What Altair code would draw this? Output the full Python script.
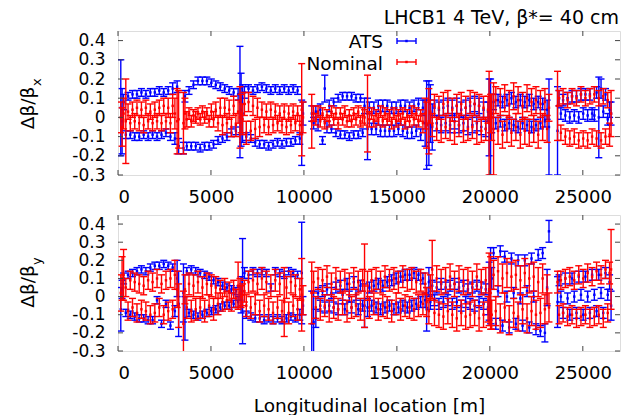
import altair as alt
import pandas as pd

# BPM longitudinal positions [m]
S = [150, 220, 300, 420, 540, 660, 780, 900, 1020, 1140, 1260, 1380, 1500, 1620, 1740, 1860, 1980, 2100, 2220, 2340, 2460, 2580, 2700, 2820, 2940, 3060, 3180, 3260,
     3520, 3600, 3700, 3820, 3940, 4060, 4180, 4300, 4420, 4540, 4660, 4780, 4900, 5020, 5140, 5260, 5380, 5500, 5620, 5740, 5860, 5980, 6100, 6220, 6340, 6460, 6560, 6620, 6700,
     6800, 6900, 7020, 7140, 7260, 7380, 7500, 7620, 7740, 7860, 7980, 8100, 8220, 8340, 8460, 8580, 8700, 8820, 8940, 9060, 9180, 9300, 9420, 9540, 9660, 9780, 9880, 9950,
     10420, 10520, 10640, 10760, 10880, 11000, 11120, 11240, 11360, 11480, 11600, 11720, 11840, 11960, 12080, 12200, 12320, 12440, 12560, 12680, 12800, 12920, 13040, 13160, 13260,
     13420, 13520, 13640, 13760, 13880, 14000, 14120, 14240, 14360, 14480, 14600, 14720, 14840, 14960, 15080, 15200, 15320, 15440, 15560, 15680, 15800, 15920, 16040, 16160, 16280, 16400, 16520, 16600,
     16720, 16800, 16900, 17020, 17140, 17260, 17380, 17500, 17620, 17740, 17860, 17980, 18100, 18220, 18340, 18460, 18580, 18700, 18820, 18940, 19060, 19180, 19300, 19420, 19540, 19660, 19780, 19900, 19960,
     20040, 20100, 20200, 20320, 20440, 20560, 20680, 20800, 20920, 21040, 21160, 21280, 21400, 21520, 21640, 21760, 21880, 22000, 22120, 22240, 22360, 22480, 22600, 22720, 22840, 22960, 23080, 23180,
     23640, 23720, 23820, 23940, 24060, 24180, 24300, 24420, 24540, 24660, 24780, 24900, 25020, 25140, 25260, 25380, 25500, 25620, 25740, 25860, 25980, 26100, 26220, 26340, 26440, 26520]

# values and errors in units of 0.01
ATS_X = [5, -2, 8, -9, 11, -9, 12, -10, 12, -10, 13, -9, 12, -10, 13, -9, 13, -10, 14, -9, 13, -8, 14, -10, 15, -11, 16, -15,
         -16, 11, -15, 14, -15, 17, -15, 19, -16, 19, -15, 19, -15, 18, -14, 17, -12, 16, -11, 15, -10, 14, -8, 13, -7, 12, 8, 4, 2,
         13, -10, 15, -11, 14, -13, 15, -14, 16, -14, 15, -15, 14, -14, 15, -13, 14, -14, 15, -13, 14, -13, 15, -12, 14, -11, -8, 2,
         2, -3, 3, -4, 4, -12, 15, -5, 6, -6, 8, -8, 10, -9, 11, -9, 11, -10, 11, -9, 10, -9, 10, -8, 6,
         -6, 5, -6, 5, -6, 6, -7, 6, -7, 6, -7, 5, -7, 5, -6, 6, -7, 6, -8, 5, -8, 6, -7, 7, -9, 5, -3, -4,
         -3, 2, -5, 5, -3, 4, -4, 5, -3, 6, -4, 5, -2, 6, -4, 4, -3, 5, -5, 6, -4, 7, -3, 6, -5, 4, -6, 3, 0,
         -5, 2, 8, -3, 9, -2, 8, -4, 9, -3, 10, -4, 8, -5, 9, -3, 8, -4, 9, -5, 7, -4, 8, -3, 7, -2, 4, -5,
         -7, 10, 2, 9, 1, 10, 0, 11, 1, 11, 0, 12, 2, 12, 1, 12, 2, 1, 13, 0, 15, 3, 12, -1, 4, 2]
ATS_X_ERR = [25, 17, 4, 2, 2, 2, 2, 2, 2, 2, 2, 2, 2, 2, 2, 2, 2, 2, 2, 2, 2, 2, 2, 2, 3, 3, 3, 4,
             3, 3, 2, 2, 2, 2, 2, 2, 2, 2, 2, 2, 2, 2, 2, 2, 2, 2, 2, 2, 2, 2, 2, 2, 2, 3, 29, 19, 15,
             3, 2, 2, 2, 2, 2, 2, 2, 2, 2, 2, 2, 2, 2, 2, 2, 2, 2, 2, 2, 2, 2, 2, 2, 2, 3, 17, 6,
             4, 3, 3, 3, 3, 2, 7, 3, 3, 2, 2, 2, 2, 2, 2, 2, 2, 2, 2, 2, 2, 2, 2, 2, 4,
             16, 3, 3, 3, 3, 3, 3, 3, 3, 3, 3, 3, 3, 3, 3, 3, 3, 3, 3, 3, 3, 3, 3, 3, 3, 4, 12, 23,
             22, 15, 12, 4, 4, 4, 4, 4, 4, 4, 4, 4, 4, 4, 4, 4, 4, 4, 4, 4, 4, 4, 4, 4, 4, 4, 4, 5, 20,
             25, 10, 4, 3, 3, 3, 3, 3, 3, 3, 3, 3, 3, 3, 3, 3, 3, 3, 3, 3, 3, 3, 3, 3, 3, 3, 5, 25,
             23, 4, 3, 3, 3, 3, 3, 3, 3, 3, 3, 3, 3, 3, 3, 3, 3, 3, 3, 21, 5, 3, 3, 3, 4, 6]

NOM_X = [0, -5, 2, -2, 3, -3, 4, -2, 5, -3, 4, -4, 5, -2, 3, -3, 4, -2, 5, -3, 6, -2, 5, -3, 6, 2, -2, -1,
         -3, 2, -1, 2, -2, 1, 0, 2, -1, 3, 0, 2, -2, 3, -1, 4, -3, 5, -4, 5, -3, 4, -5, 6, -4, 3, 0, 2, -1,
         7, -8, 8, -7, 6, -6, 5, -5, 4, -4, 3, -5, 4, -4, 3, -3, 2, -4, 3, -5, 2, -4, 3, -3, 2, -4, 4, 0,
         -2, 2, -1, 3, -2, 2, -3, 1, -2, 3, -1, 2, -3, 2, -1, 3, -2, 1, -2, 2, -1, 3, -2, 1, 0,
         2, -1, 2, -2, 1, -1, 3, -2, 2, -1, 1, -3, 2, -2, 1, -1, 2, -3, 1, -2, 3, -1, 2, -2, 1, -3, 2, -4,
         -2, 3, -4, 6, -6, 5, -7, 7, -5, 8, -6, 4, -8, 6, -4, 7, -7, 5, -6, 8, -5, 7, -8, 6, -7, 5, -6, 4, -3,
         2, 0, -6, 9, -7, 8, -9, 10, -6, 7, -8, 11, -5, 9, -9, 6, -7, 10, -8, 8, -6, 9, -9, 7, -5, 8, -6, 5,
         6, 10, -8, 11, -10, 9, -11, 11, -10, 10, -12, 12, -11, 10, -12, 11, -10, 12, -11, 10, -12, 11, -10, 9, -9, 2]
NOM_X_ERR = [8, 10, 8, 22, 4, 4, 4, 4, 4, 4, 4, 4, 4, 4, 4, 4, 4, 4, 4, 4, 4, 4, 5, 5, 6, 8, 17, 15,
             16, 8, 4, 3, 3, 3, 3, 3, 3, 3, 3, 3, 3, 4, 4, 4, 4, 5, 5, 5, 5, 5, 5, 5, 6, 6, 16, 10, 8,
             6, 6, 5, 5, 5, 5, 5, 5, 4, 4, 4, 4, 4, 4, 4, 4, 4, 4, 4, 4, 4, 4, 4, 4, 4, 5, 24, 8,
             14, 4, 3, 3, 3, 3, 3, 3, 3, 3, 3, 3, 3, 3, 3, 3, 3, 3, 3, 3, 3, 3, 3, 4, 4,
             20, 4, 3, 3, 3, 3, 3, 3, 3, 3, 3, 3, 3, 3, 3, 3, 3, 3, 3, 3, 3, 3, 3, 3, 3, 5, 8, 12,
             17, 6, 6, 6, 6, 6, 6, 6, 6, 6, 6, 6, 6, 6, 6, 6, 6, 6, 6, 6, 6, 6, 6, 6, 6, 6, 6, 7, 27,
             10, 12, 24, 7, 7, 7, 7, 7, 7, 7, 7, 7, 7, 7, 7, 7, 7, 7, 7, 7, 7, 7, 7, 7, 7, 7, 7, 7,
             18, 4, 4, 4, 4, 4, 4, 4, 4, 4, 4, 4, 4, 4, 4, 4, 4, 4, 4, 4, 4, 4, 4, 4, 6, 12]

ATS_Y = [-7, 4, 10, -9, 12, -10, 13, -11, 14, -12, 15, -12, 14, -13, 16, -13, 17, -2, 17, -15, 18, -4, 17, -16, 16, -8, 10, -4,
         2, -12, 14, -9, 15, -10, 14, -11, 13, -10, 12, -9, 11, -8, 9, -7, 8, -6, 6, -5, 5, -5, 4, -4, 3, -3, 2, 1, 3,
         13, -10, 12, -11, 14, -12, 13, -12, 14, -13, 13, -12, 5, -13, 14, -12, 13, -13, 12, -12, 14, -11, 13, -12, 12, -10, 13, -5,
         -15, -14, -12, 2, -5, 3, -6, 4, -5, 2, -6, 5, -7, 6, 1, -7, 7, 0, -6, 8, 1, -7, 6, -5, -5,
         -6, 5, -5, 6, -6, 7, -7, 6, -6, 8, -5, 9, -7, 10, -6, 11, -5, 12, -6, 12, -5, 13, -4, 12, -3, 10, -2, -7,
         8, -3, 6, -2, 5, -4, 7, -3, 5, -2, 6, -4, 7, -3, 5, -5, 6, -3, 4, -4, 5, -5, 6, -3, 5, -4, 4, -6, 3,
         6, 10, 24, -15, 3, 25, -16, 22, 0, -17, 21, 2, -15, 20, -1, -16, 20, 3, -17, 21, 0, -18, 23, -19, 24, -20, 5, 36,
         -3, 9, 0, -9, 10, -1, -10, 10, 0, -9, 11, 1, -10, 11, 0, -9, 12, 1, -8, 12, 2, -9, 13, 1, 8, -5]
ATS_Y_ERR = [12, 5, 3, 2, 2, 2, 2, 2, 2, 2, 2, 2, 2, 2, 2, 2, 2, 2, 2, 2, 2, 2, 2, 2, 2, 3, 10, 18,
             16, 12, 2, 2, 2, 2, 2, 2, 2, 2, 2, 2, 2, 2, 2, 2, 2, 2, 2, 2, 2, 2, 2, 2, 2, 3, 4, 10, 29,
             3, 2, 2, 2, 2, 2, 2, 2, 2, 2, 2, 2, 2, 2, 2, 2, 2, 2, 2, 2, 2, 2, 2, 2, 2, 3, 28, 5,
             18, 17, 5, 3, 3, 3, 3, 3, 3, 3, 3, 3, 3, 3, 3, 3, 3, 3, 3, 3, 3, 3, 3, 3, 12,
             5, 3, 3, 3, 3, 3, 3, 3, 3, 3, 3, 3, 3, 3, 3, 3, 3, 3, 3, 3, 3, 3, 3, 3, 3, 3, 4, 12,
             8, 4, 3, 3, 3, 3, 3, 3, 3, 3, 3, 3, 3, 3, 3, 3, 3, 3, 3, 3, 3, 3, 3, 3, 3, 3, 3, 4, 16,
             21, 6, 3, 3, 3, 3, 3, 3, 3, 3, 3, 3, 3, 3, 3, 3, 3, 3, 3, 3, 3, 3, 3, 3, 3, 5, 10, 6,
             14, 3, 3, 3, 3, 3, 3, 3, 3, 3, 3, 3, 3, 3, 3, 3, 3, 3, 3, 3, 3, 3, 3, 3, 4, 8]

NOM_Y = [2, 10, 12, 5, -8, 9, -6, 8, -9, 7, -7, 6, -8, 9, -10, 8, -9, 10, -6, 7, -10, 9, -8, 10, -7, 12, 4, -5,
         -15, 4, -6, 7, -8, 6, -7, 8, -6, 5, -8, 7, -5, 6, -7, 5, -4, 4, -3, 5, -2, 3, -3, 4, -1, 6, 2, 0, 1,
         3, -5, 8, -6, 9, -4, 7, -8, 10, -5, 8, -7, 6, -9, 9, -6, 7, -8, -3, 5, -9, 8, -5, 6, -7, 4, 1, -2,
         2, 8, -6, 10, -7, 9, -5, 11, -8, 7, -6, 10, -7, 8, -4, 9, -8, 7, -6, 10, -5, 8, -7, 9, 6,
         6, -6, 9, -4, 10, -7, 8, -5, 11, -6, 9, -8, 10, -4, 8, -7, 11, -5, 9, -6, 10, -7, 8, -5, 9, -4, 7, -3,
         -8, 5, 15, -9, 10, -10, 8, -11, 9, -8, 11, -10, 7, -12, 10, -9, 8, -11, 9, -10, 7, -9, 11, -12, 8, -10, 9, -7, 4,
         2, -10, 12, -8, 14, -12, 10, -6, 13, -13, 11, -9, 12, -11, 9, -7, 13, -12, 10, -8, 11, -10, 8, -9, 10, -7, 4, -6,
         8, -10, 9, -9, 10, -11, 11, -10, 9, -12, 12, -11, 10, -10, 13, -12, 11, -11, 14, -10, 12, -12, 15, -9, 13, 15]
NOM_Y_ERR = [10, 12, 14, 5, 5, 5, 5, 5, 5, 5, 5, 5, 5, 5, 5, 5, 5, 5, 5, 5, 5, 5, 5, 5, 5, 8, 10, 12,
             18, 8, 6, 6, 6, 6, 6, 6, 6, 6, 6, 6, 6, 6, 6, 6, 6, 5, 5, 5, 5, 5, 5, 5, 5, 13, 8, 6, 6,
             6, 6, 6, 6, 6, 6, 6, 6, 6, 6, 6, 6, 6, 6, 6, 6, 6, 6, 19, 6, 6, 6, 6, 6, 6, 6, 20, 8,
             17, 6, 6, 6, 6, 6, 6, 6, 6, 6, 6, 6, 6, 6, 6, 6, 6, 6, 6, 6, 6, 6, 6, 6, 23,
             8, 6, 6, 6, 6, 6, 6, 6, 6, 6, 6, 6, 6, 6, 6, 6, 6, 6, 6, 6, 6, 6, 6, 6, 6, 6, 6, 8,
             7, 7, 16, 7, 7, 7, 7, 7, 7, 7, 7, 7, 7, 7, 7, 7, 7, 7, 7, 7, 7, 7, 7, 7, 7, 7, 7, 7, 20,
             20, 8, 8, 8, 8, 8, 8, 8, 8, 8, 8, 8, 8, 8, 8, 8, 8, 8, 8, 8, 8, 8, 8, 8, 8, 8, 8, 8,
             6, 5, 5, 5, 5, 5, 5, 5, 5, 5, 5, 5, 5, 5, 5, 5, 5, 5, 5, 5, 5, 5, 5, 5, 6, 22]

X_TICKS = [0, 5000, 10000, 15000, 20000, 25000]
Y_TICKS = [-0.3, -0.2, -0.1, 0, 0.1, 0.2, 0.3, 0.4]
SERIES = ["ATS", "Nominal"]
COLORS = ["#0000ff", "#ff0000"]
TITLE = "LHCB1 4 TeV, \u03b2*= 40 cm"
X_TITLE = "Longitudinal location [m]"
Y_MAIN = "\u0394\u03b2/\u03b2"

FONT = "DejaVu Sans"
W = 502
H_TOP = 144
H_BOT = 136
SW = 1.4


def frame(vals, errs):
    rows = []
    for s, v, e in zip(S, vals, errs):
        rows.append({"s": s, "v": v / 100.0, "lo": (v - e) / 100.0, "hi": (v + e) / 100.0})
    return pd.DataFrame(rows)


XS = alt.Scale(domain=[0, 27000], nice=False, zero=False)
YS = alt.Scale(domain=[-0.3, 0.45], nice=False, zero=False)


def x_axis(with_title):
    kw = dict(values=X_TICKS, format="d", ticks=False, domain=False, grid=False,
              labelPadding=13, labelFont=FONT, labelFontSize=18, labelColor="black")
    if with_title:
        kw.update(titleFont=FONT, titleFontSize=18.5, titleFontWeight="normal",
                  titleColor="black", titlePadding=14)
    return alt.Axis(**kw)


Y_AXIS = alt.Axis(values=Y_TICKS, labelExpr="toString(round(datum.value*10)/10)",
                  ticks=False, domain=False, grid=False, labelPadding=13,
                  labelFont=FONT, labelFontSize=17, labelColor="black")


def panel(ats_df, nom_df, height, sub, main_y, sub_y, top):
    xt = X_TITLE if not top else None
    xa = x_axis(not top)

    def X(field):
        return alt.X(field, type="quantitative", scale=XS, axis=xa, title=xt)

    def Y(field):
        return alt.Y(field, type="quantitative", scale=YS, axis=Y_AXIS, title=None)

    layers = []
    for df, col in [(ats_df, COLORS[0]), (nom_df, COLORS[1])]:
        base = alt.Chart(df)
        layers.append(base.mark_rule(color=col, strokeWidth=SW, clip=True).encode(
            x=X("s"), y=Y("lo"), y2="hi"))
        layers.append(base.mark_tick(color=col, orient="horizontal", size=7, thickness=SW,
                                     clip=True, opacity=1).encode(x=X("s"), y=Y("lo")))
        layers.append(base.mark_tick(color=col, orient="horizontal", size=7, thickness=SW,
                                     clip=True, opacity=1).encode(x=X("s"), y=Y("hi")))
        layers.append(base.mark_square(color=col, size=6, opacity=1, clip=True).encode(
            x=X("s"), y=Y("v")))

    # inward tick marks on all four sides
    yt = alt.Chart(pd.DataFrame({"v": Y_TICKS}))
    xtk = alt.Chart(pd.DataFrame({"s": X_TICKS}))
    tick_style = dict(color="#444444", strokeWidth=1)
    layers.append(yt.mark_rule(**tick_style).encode(y=Y("v"), x=alt.value(0), x2=alt.value(5)))
    layers.append(yt.mark_rule(**tick_style).encode(y=Y("v"), x=alt.value(W - 5), x2=alt.value(W)))
    layers.append(xtk.mark_rule(**tick_style).encode(x=X("s"), y=alt.value(height), y2=alt.value(height - 5)))
    layers.append(xtk.mark_rule(**tick_style).encode(x=X("s"), y=alt.value(0), y2=alt.value(5)))

    # y-axis title with subscript
    layers.append(alt.Chart(pd.DataFrame({"t": [Y_MAIN]})).mark_text(
        font=FONT, fontSize=18.5, angle=270, align="center", baseline="alphabetic", color="black"
    ).encode(text="t:N", x=alt.value(-84), y=alt.value(main_y)))
    layers.append(alt.Chart(pd.DataFrame({"t": [sub]})).mark_text(
        font=FONT, fontSize=13, angle=270, align="left", baseline="alphabetic", color="black"
    ).encode(text="t:N", x=alt.value(-77.5), y=alt.value(sub_y)))

    if top:
        layers.append(alt.Chart(pd.DataFrame({"t": [TITLE]})).mark_text(
            font=FONT, fontSize=19, align="right", baseline="alphabetic", color="black"
        ).encode(text="t:N", x=alt.value(W - 1), y=alt.value(-7.5)))
        for i, (name, col) in enumerate(zip(SERIES, COLORS)):
            ty = 16.5 + 22 * i
            ly = 10 + 21 * i
            one = alt.Chart(pd.DataFrame({"t": [name]}))
            layers.append(one.mark_text(
                font=FONT, fontSize=18.5, align="right", baseline="alphabetic", color="black"
            ).encode(text="t:N", x=alt.value(265), y=alt.value(ty)))
            layers.append(one.mark_rule(color=col, strokeWidth=SW).encode(
                x=alt.value(279), x2=alt.value(298), y=alt.value(ly)))
            layers.append(one.mark_rule(color=col, strokeWidth=SW).encode(
                x=alt.value(279), y=alt.value(ly - 3), y2=alt.value(ly + 3)))
            layers.append(one.mark_rule(color=col, strokeWidth=SW).encode(
                x=alt.value(298), y=alt.value(ly - 3), y2=alt.value(ly + 3)))
            layers.append(one.mark_square(color=col, size=6, opacity=1).encode(
                x=alt.value(288.5), y=alt.value(ly)))

    return alt.layer(*layers).properties(width=W, height=height)


top = panel(frame(ATS_X, ATS_X_ERR), frame(NOM_X, NOM_X_ERR), H_TOP, "x", 77, 55, True)
bot = panel(frame(ATS_Y, ATS_Y_ERR), frame(NOM_Y, NOM_Y_ERR), H_BOT, "y", 71.5, 50, False)

chart = alt.vconcat(top, bot, spacing=7).properties(
    padding={"left": 10, "top": 0, "right": 0, "bottom": 0}
).configure_view(stroke="black", strokeWidth=1.3).configure(background="white")

chart.save("out.html", embed_options={"renderer": "svg", "actions": False})
